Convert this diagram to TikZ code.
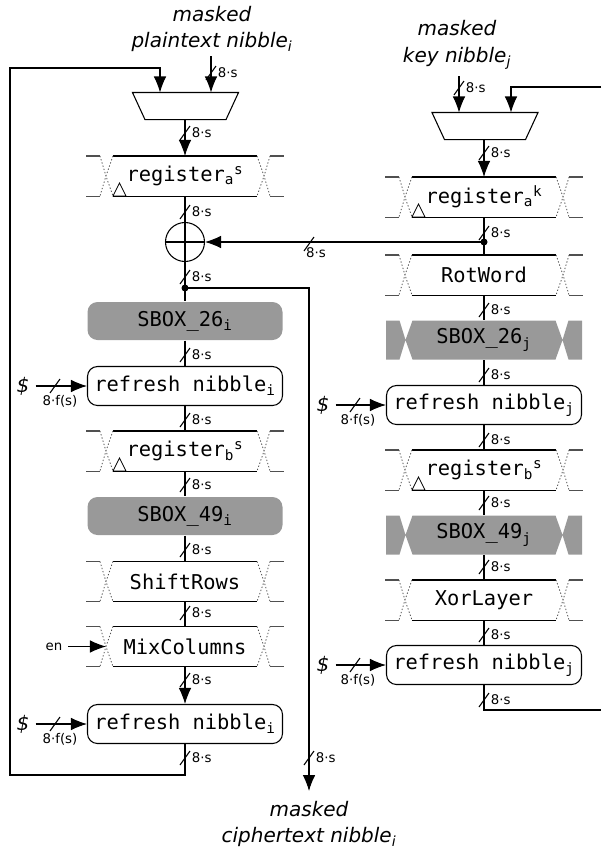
\documentclass[tikz,border=0pt]{standalone}
\usepackage{fontspec}
\setmainfont{DejaVu Sans}
\setmonofont{DejaVu Sans Mono}
\usetikzlibrary{arrows.meta,calc}
\definecolor{sgray}{RGB}{153,153,153}
\definecolor{brgray}{RGB}{80,80,80}
\newcounter{bmc}
\newcommand{\busmark}[3]{%
  \stepcounter{bmc}%
  \draw (#1-5,#2+7) -- (#1+5,#2-7);
  \node[bl,anchor=west] (bm\thebmc) at (#1+5,#2) {#3};%
}
\newcommand{\regdeco}[1]{%
  \draw (#1.north west) -- (#1.north east) (#1.south west) -- (#1.south east);
  \draw[dotln] (#1.north west) -- ($(#1.west)+(-7,0)$) -- (#1.south west)
               (#1.north east) -- ($(#1.east)+(7,0)$) -- (#1.south east)
               ($(#1.north west)+(-13,0)$) -- ($(#1.west)+(-7,0)$) -- ($(#1.south west)+(-13,0)$)
               ($(#1.north east)+(13,0)$) -- ($(#1.east)+(7,0)$) -- ($(#1.south east)+(13,0)$);
  \draw[brln] ($(#1.north west)+(-13,0)$) -- ($(#1.north west)+(-26.5,0)$)
              ($(#1.south west)+(-13,0)$) -- ($(#1.south west)+(-26.5,0)$)
              ($(#1.north east)+(13,0)$) -- ($(#1.north east)+(26.5,0)$)
              ($(#1.south east)+(13,0)$) -- ($(#1.south east)+(26.5,0)$);
}
\newcommand{\clockmark}[1]{%
  \draw[line width=0.6pt] (#1.south west) -- ($(#1.south west)+(13,0)$) -- ($(#1.south west)+(6.5,-13)$) -- cycle;
}
\newcommand{\notchbox}[4]{%
  \fill[sgray] (#2-98,#3-19.5) -- (#2-84.5,#3-19.5) -- (#2-78.5,#3) -- (#2-71.5,#3-19.5)
     -- (#2+71.5,#3-19.5) -- (#2+78.5,#3) -- (#2+84.5,#3-19.5) -- (#2+98,#3-19.5)
     -- (#2+98,#3+19.5) -- (#2+84.5,#3+19.5) -- (#2+78.5,#3) -- (#2+71.5,#3+19.5)
     -- (#2-71.5,#3+19.5) -- (#2-78.5,#3) -- (#2-84.5,#3+19.5) -- (#2-98,#3+19.5) -- cycle;
  \node[regbox] (#1) at (#2,#3) {#4};
}
\begin{document}
\begin{tikzpicture}[x=0.75pt,y=-0.75pt,line width=0.8pt,
  mono/.style={font=\ttfamily\fontsize{15.3}{18}\selectfont},
  regbox/.style={mono,minimum width=107.25pt,minimum height=29.25pt,inner sep=0pt},
  rbox/.style={mono,draw,rounded corners=7.5pt,fill=white,minimum width=146.25pt,minimum height=29.25pt,inner sep=0pt},
  gbox/.style={mono,fill=sgray,rounded corners=7.5pt,minimum width=146.25pt,minimum height=28.5pt,inner sep=0pt},
  muxn/.style={minimum width=78.75pt,minimum height=19.5pt,inner sep=0pt},
  lab/.style={font=\fontsize{15}{20}\selectfont\itshape,align=center,inner sep=2pt},
  bl/.style={font=\fontsize{10}{12}\selectfont,inner sep=1pt},
  arr/.style={-{Latex[length=12pt,width=9.5pt]}},
  dotln/.style={brgray,line width=0.6pt,dash pattern=on 1pt off 1.5pt},
  brln/.style={brgray,line width=0.8pt}]
\useasboundingbox (0,0) rectangle (601,850);

% ---------------- left column ----------------
\node[lab] (pt) at (212,29) {masked\\plaintext nibble\textsubscript{i}};
\node[muxn] (muxL) at (185.5,106) {};
\draw (muxL.north west) -- (muxL.north east) -- ($(muxL.south east)+(-12.5,0)$) -- ($(muxL.south west)+(12.5,0)$) -- cycle;

\node[regbox] (rega) at (185,176) {register\textsubscript{a}\textsuperscript{s}};
\regdeco{rega}\clockmark{rega}
\node[draw,circle,minimum size=29.25pt,inner sep=0pt] (xor) at (185,242) {};
\draw (xor.north) -- (xor.south) (xor.west) -- (xor.east);
\coordinate (dotL) at (185,288);
\fill (dotL) circle[radius=3.5];

\node[gbox] (sb26i) at (185,321) {SBOX\_26\textsubscript{i}};
\node[rbox] (ref1i) at (185,386) {refresh nibble\textsubscript{i}};
\node[regbox] (regb) at (185,451) {register\textsubscript{b}\textsuperscript{s}};
\regdeco{regb}\clockmark{regb}
\node[gbox] (sb49i) at (185,516) {SBOX\_49\textsubscript{i}};
\node[regbox] (shift) at (185,581.5) {ShiftRows};
\regdeco{shift}
\node[regbox] (mix) at (185,646.5) {MixColumns};
\regdeco{mix}
\node[rbox] (ref2i) at (185,724) {refresh nibble\textsubscript{i}};

\coordinate (ptin) at (211,56);
\draw[arr] (ptin) -- (ptin |- muxL.north);
\busmark{211}{73}{8·s}
\draw[arr] (rega.north |- muxL.south) -- (rega.north);
\busmark{185}{133}{8·s}
\draw (rega.south) -- (xor.north);
\busmark{185}{212}{8·s}
\draw (xor.south) -- (dotL) -- (sb26i.north);
\busmark{185}{277}{8·s}
\coordinate (ctout) at (309,791);
\draw[arr] (dotL) -| (ctout);
\busmark{309}{758}{8·s}
\node[lab] (ct) at (309,824) {masked\\ciphertext nibble\textsubscript{i}};

\draw (sb26i) -- (ref1i);   \busmark{185}{355}{8·s}
\draw (ref1i) -- (regb);    \busmark{185}{420}{8·s}
\draw (regb) -- (sb49i);    \busmark{185}{485}{8·s}
\draw (sb49i) -- (shift);   \busmark{185}{550}{8·s}
\draw (shift) -- (mix);     \busmark{185}{613}{8·s}
\draw[arr] (mix) -- (ref2i); \busmark{185}{680}{8·s}
\coordinate (fbL1) at (10,775);
\coordinate (fbL2) at (160,68);
\draw[arr] (ref2i.south) |- (fbL1) |- (fbL2) -- (fbL2 |- muxL.north);
\busmark{185}{758}{8·s}

\node[lab] (dL1) at (23,386) {\$};
\draw[arr] ($(dL1.east)+(3,0)$) -- (ref1i.west);
\draw (50,393) -- (60,379);
\node[bl] (fL1) at (60,401) {8·f(s)};
\node[lab] (dL2) at (23,724) {\$};
\draw[arr] ($(dL2.east)+(3,0)$) -- (ref2i.west);
\draw (50,731) -- (60,717);
\node[bl] (fL2) at (60,739) {8·f(s)};
\node[bl] (en) at (54,646.5) {en};
\draw[arr] ($(en.east)+(4,0)$) -- ($(mix.west)+(-7,0)$);

% ---------------- right column ----------------
\node[lab] (kt) at (457,45) {masked\\key nibble\textsubscript{j}};
\node[muxn] (muxR) at (485,126) {};
\draw (muxR.north west) -- (muxR.north east) -- ($(muxR.south east)+(-12.5,0)$) -- ($(muxR.south west)+(12.5,0)$) -- cycle;
\coordinate (ktin) at (459,76);
\draw[arr] (ktin) -- (ktin |- muxR.north);
\busmark{459}{88}{8·s}
\coordinate (fbR1) at (601,87);
\coordinate (fbR2) at (511,87);
\draw[arr] (fbR1) -- (fbR2) -- (fbR2 |- muxR.north);

\node[regbox] (regak) at (484,197) {register\textsubscript{a}\textsuperscript{k}};
\regdeco{regak}\clockmark{regak}
\draw[arr] (regak.north |- muxR.south) -- (regak.north);
\busmark{484}{153}{8·s}
\coordinate (dotR) at (484,242);
\fill (dotR) circle[radius=3.5];

\node[regbox] (rot) at (484,275) {RotWord};
\regdeco{rot}
\notchbox{sb26j}{484}{340}{SBOX\_26\textsubscript{j}}
\node[rbox] (ref1j) at (484,405) {refresh nibble\textsubscript{j}};
\node[regbox] (regbj) at (484,470) {register\textsubscript{b}\textsuperscript{s}};
\regdeco{regbj}\clockmark{regbj}
\notchbox{sb49j}{484}{535}{SBOX\_49\textsubscript{j}}
\node[regbox] (xorl) at (484,600) {XorLayer};
\regdeco{xorl}
\node[rbox] (ref2j) at (484,665) {refresh nibble\textsubscript{j}};

\draw (regak.south) -- (dotR) -- (rot.north); \busmark{484}{233}{8·s}
\draw[arr] (dotR) -- (xor.east);
\draw (304,251) -- (314,237);
\node[bl] (xl) at (316,253) {8·s};
\draw (rot) -- (sb26j);     \busmark{484}{310}{8·s}
\draw (sb26j) -- (ref1j);   \busmark{484}{375}{8·s}
\draw (ref1j) -- (regbj);   \busmark{484}{440}{8·s}
\draw (regbj) -- (sb49j);   \busmark{484}{503}{8·s}
\draw (sb49j) -- (xorl);    \busmark{484}{567}{8·s}
\draw (xorl) -- (ref2j);    \busmark{484}{635}{8·s}
\coordinate (fbR3) at (601,710);
\draw (ref2j.south) |- (fbR3);
\busmark{484}{700}{8·s}

\node[lab] (dR1) at (323,405) {\$};
\draw[arr] ($(dR1.east)+(3,0)$) -- (ref1j.west);
\draw (350,412) -- (360,398);
\node[bl] (fR1) at (358,420) {8·f(s)};
\node[lab] (dR2) at (323,665) {\$};
\draw[arr] ($(dR2.east)+(3,0)$) -- (ref2j.west);
\draw (350,672) -- (360,658);
\node[bl] (fR2) at (358,680) {8·f(s)};
\end{tikzpicture}
\end{document}
